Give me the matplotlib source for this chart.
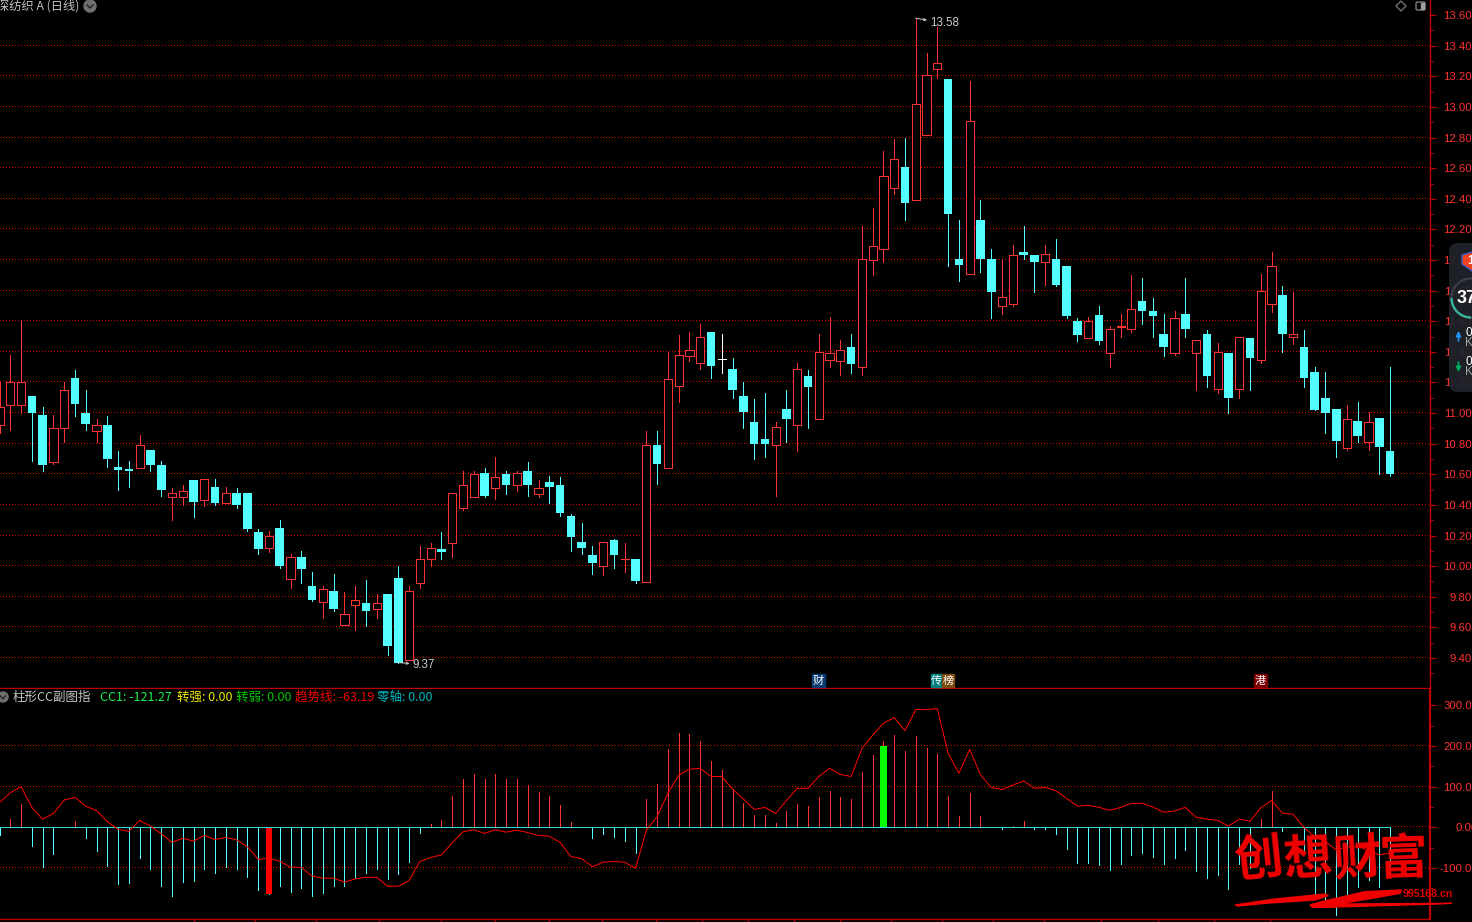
import matplotlib
matplotlib.use('Agg')
import matplotlib.pyplot as plt
import numpy as np
from matplotlib.patches import Circle, FancyBboxPatch, Polygon, Rectangle, Arc

plt.rcParams['font.family'] = ['Noto Sans CJK SC', 'DejaVu Sans']

# K线: 上影, 实体上沿, 实体下沿, 下影
highs = [11.20, 11.38, 11.61, 11.11, 11.04, 10.99, 11.20, 11.28, 11.15, 10.96,
         10.98, 10.75, 10.69, 10.86, 10.76, 10.69, 10.51, 10.53, 10.56, 10.57,
         10.57, 10.52, 10.51, 10.48, 10.24, 10.23, 10.30, 10.08, 10.10, 9.96,
         9.87, 9.95, 9.83, 9.87, 9.91, 9.82, 9.82, 10.00, 9.87, 10.13,
         10.15, 10.22, 10.48, 10.62, 10.62, 10.64, 10.71, 10.62, 10.62, 10.68,
         10.56, 10.59, 10.58, 10.34, 10.28, 10.13, 10.16, 10.18, 10.15, 10.05,
         10.88, 10.88, 11.40, 11.51, 11.53, 11.58, 11.53, 11.52, 11.36, 11.20,
         11.09, 11.13, 10.94, 11.15, 11.33, 11.28, 11.52, 11.63, 11.48, 11.52,
         12.22, 12.34, 12.71, 12.79, 12.80, 13.58, 13.35, 13.52, 13.18, 12.26,
         13.17, 12.39, 12.07, 12.01, 12.10, 12.22, 12.03, 12.10, 12.14, 11.96,
         11.62, 11.63, 11.70, 11.57, 11.65, 11.90, 11.88, 11.75, 11.65, 11.67,
         11.88, 11.48, 11.54, 11.46, 11.39, 11.50, 11.49, 11.91, 12.05, 11.83,
         11.79, 11.54, 11.30, 11.27, 11.03, 11.05, 11.07, 11.01, 10.97, 11.30]
tops = [11.04, 11.20, 11.20, 11.11, 10.99, 10.90, 11.15, 11.23, 11.00, 10.92,
        10.92, 10.65, 10.625, 10.79, 10.76, 10.66, 10.48, 10.49, 10.56, 10.57,
        10.52, 10.48, 10.48, 10.48, 10.22, 10.20, 10.25, 10.06, 10.06, 9.87,
        9.85, 9.84, 9.69, 9.78, 9.76, 9.76, 9.82, 9.92, 9.84, 10.05,
        10.12, 10.11, 10.48, 10.53, 10.60, 10.61, 10.58, 10.60, 10.61, 10.62,
        10.51, 10.55, 10.53, 10.33, 10.16, 10.07, 10.16, 10.17, 10.045, 10.05,
        10.79, 10.79, 11.22, 11.38, 11.41, 11.50, 11.53, 11.355, 11.29, 11.11,
        10.94, 10.83, 10.91, 11.03, 11.29, 11.24, 11.40, 11.39, 11.41, 11.43,
        12.01, 12.09, 12.55, 12.66, 12.61, 13.02, 13.21, 13.29, 13.18, 12.01,
        12.91, 12.26, 12.01, 11.76, 12.03, 12.05, 12.03, 12.04, 12.01, 11.96,
        11.60, 11.60, 11.64, 11.55, 11.57, 11.68, 11.73, 11.67, 11.52, 11.62,
        11.65, 11.48, 11.52, 11.40, 11.39, 11.50, 11.49, 11.80, 11.96, 11.77,
        11.52, 11.43, 11.27, 11.10, 11.03, 10.96, 10.95, 10.94, 10.97, 10.75]
bots = [10.92, 11.05, 11.05, 11.00, 10.66, 10.68, 10.90, 11.06, 10.93, 10.88,
        10.70, 10.63, 10.625, 10.64, 10.66, 10.50, 10.455, 10.455, 10.42, 10.43,
        10.41, 10.415, 10.40, 10.24, 10.11, 10.12, 10.00, 9.915, 9.98, 9.78,
        9.765, 9.72, 9.615, 9.745, 9.71, 9.72, 9.48, 9.37, 9.385, 9.89,
        10.045, 10.09, 10.15, 10.38, 10.455, 10.46, 10.51, 10.53, 10.53, 10.53,
        10.47, 10.52, 10.35, 10.19, 10.12, 10.02, 10.00, 10.07, 10.045, 9.90,
        9.895, 10.67, 10.64, 11.18, 11.37, 11.33, 11.31, 11.355, 11.15, 11.01,
        10.80, 10.80, 10.79, 10.96, 10.92, 11.17, 10.96, 11.35, 11.34, 11.32,
        11.30, 12.00, 12.07, 12.47, 12.37, 12.39, 12.82, 13.25, 12.30, 11.97,
        11.91, 12.01, 11.79, 11.70, 11.71, 12.03, 11.99, 11.99, 11.84, 11.635,
        11.51, 11.49, 11.47, 11.395, 11.56, 11.55, 11.67, 11.635, 11.43, 11.395,
        11.55, 11.39, 11.24, 11.16, 11.10, 11.16, 11.36, 11.35, 11.71, 11.52,
        11.50, 11.23, 11.02, 11.00, 10.82, 10.775, 10.85, 10.81, 10.78, 10.60]
lows = [10.87, 10.89, 11.00, 10.69, 10.62, 10.67, 10.81, 10.98, 10.89, 10.81,
        10.65, 10.50, 10.52, 10.64, 10.62, 10.46, 10.30, 10.40, 10.32, 10.39,
        10.40, 10.415, 10.38, 10.23, 10.08, 10.09, 9.99, 9.86, 9.89, 9.77,
        9.66, 9.71, 9.615, 9.58, 9.61, 9.66, 9.42, 9.37, 9.385, 9.855,
        10.00, 10.05, 10.06, 10.37, 10.455, 10.45, 10.44, 10.47, 10.49, 10.46,
        10.45, 10.41, 10.33, 10.10, 10.08, 9.95, 9.94, 9.99, 9.96, 9.89,
        9.895, 10.54, 10.64, 11.07, 11.34, 11.29, 11.23, 11.26, 11.10, 10.90,
        10.70, 10.71, 10.46, 10.81, 10.75, 10.90, 10.96, 11.30, 11.25, 11.26,
        11.25, 11.90, 11.99, 12.43, 12.26, 12.39, 12.82, 13.19, 11.96, 11.86,
        11.91, 11.92, 11.62, 11.65, 11.70, 12.01, 11.79, 11.84, 11.83, 11.62,
        11.47, 11.49, 11.45, 11.30, 11.50, 11.53, 11.58, 11.50, 11.37, 11.38,
        11.50, 11.15, 11.17, 11.13, 11.00, 11.10, 11.15, 11.33, 11.66, 11.40,
        11.45, 11.17, 11.02, 10.87, 10.71, 10.76, 10.81, 10.76, 10.60, 10.59]
kinds = ('rrrccrrccr' 'cccrccrrcr' 'crcccrcrcc' 'rcrrcrccrr' 'rcrrrcrcrc'
         'rcccccrcrc' 'rcrrrrcwcc' 'ccrcrcrrrc' 'rrrrcrrrcc' 'rccrrccrcc'
         'crcrrrcccr' 'crcrcrcrrc' 'rccccrcrcc')

# 副图: 柱子 CC1 与 趋势线
cc1 = [-19, 20, 57, -46, -98, -66, 0, 16, -26, -58,
       -95, -139, -137, -75, -102, -144, -169, -134, -132, -102,
       -112, -98, -102, -122, -154, -164, -144, -159, -149, -169,
       -161, -144, -144, -125, -112, -102, -127, -115, -85, -14,
       8, 18, 77, 119, 131, 119, 131, 119, 119, 104,
       87, 77, 55, 13, 0, -26, -16, -24, -34, -63,
       70, 107, 193, 232, 230, 212, 163, 141, 94, 60,
       30, 30, 11, 40, 57, 52, 75, 89, 75, 70,
       136, 178, 212, 227, 188, 225, 195, 180, 77, 28,
       84, 28, 0, -4, 3, 16, -4, -4, -16, -53,
       -88, -88, -93, -105, -90, -68, -63, -73, -90, -75,
       -56, -107, -125, -117, -152, -90, -100, 20, 89, -9,
       0, -55, -166, -179, -216, -165, -147, -130, -147, -121.27]
trend = [61, 85, 100, 49, 20, 34, 67, 74, 52, 41,
         14, -5, -10, 17, 3, -16, -37, -27, -34, -20,
         -30, -25, -31, -48, -79, -76, -84, -98, -99, -120,
         -125, -125, -135, -127, -123, -123, -145, -145, -131, -84,
         -74, -68, -38, -11, -6, -15, -6, -12, -7, -13,
         -20, -22, -37, -72, -77, -97, -86, -84, -86, -101,
         -7, 26, 84, 128, 143, 145, 125, 125, 94, 70,
         44, 49, 34, 66, 96, 96, 125, 145, 130, 125,
         194, 227, 256, 270, 238, 290, 290, 292, 182, 133,
         192, 129, 98, 93, 104, 114, 96, 98, 90, 71,
         52, 54, 49, 42, 49, 59, 59, 50, 37, 40,
         49, 25, 20, 17, 3, 20, 15, 48, 66, 35,
         32, 0, -23, -35, -56, -48, -48, -56, -68, -63.19]
strong_idx, strong_val = 25, -164
weak_idx, weak_val = 82, 200

month_ticks = [18, 23.7, 29.4, 35.2, 41, 46, 51, 55.9, 60.9, 65.2, 69.4, 73.7,
               78, 82.7, 87.4, 92.2, 96.9, 102.2, 107.5, 112.7, 117.9]
price_ticks = [9.4 + 0.2 * k for k in range(22)]
cc_ticks = [-100, 0, 100, 200, 300]
hi_idx, hi_label = 85, '13.58'
lo_idx, lo_label = 37, '9.37'

RED = '#ff3232'
CYAN = '#54ffff'
AXIS = '#c00000'
GRID = '#d00000'
W, H = 1472, 922
PX = 0.72  # 1 pixel in points at dpi 100

fig = plt.figure(figsize=(W / 100, H / 100), dpi=100, facecolor='black')
ax1 = fig.add_axes([0, (H - 688) / H, 1430 / W, 688 / H], facecolor='black')
ax2 = fig.add_axes([0, (H - 919) / H, 1430 / W, 230 / H], facecolor='black')
ov = fig.add_axes([0, 0, 1, 1], facecolor='none')
ov.set_xlim(0, W)
ov.set_ylim(H, 0)
ov.axis('off')

x = list(range(len(highs)))
colors = {'r': RED, 'c': CYAN, 'w': '#ffffff'}
# 虚线网格: one pixel on, two off
dot_x = np.arange(0.05, 132.7, 3 / 10.78)

for p in price_ticks[:-1]:
    ax1.plot(dot_x, [p] * len(dot_x), ',', color=GRID, zorder=1)
for i in x:
    col = colors[kinds[i]]
    ax1.plot([i, i], [lows[i], highs[i]], color=col, lw=PX, aa=False, zorder=2,
             solid_capstyle='butt')
    if kinds[i] == 'r':
        ax1.bar(i, tops[i] - bots[i], bottom=bots[i], width=0.76, facecolor='black',
                edgecolor=col, linewidth=PX, antialiased=False, zorder=3)
    elif kinds[i] == 'c':
        ax1.bar(i, max(tops[i] - bots[i], 0.01), bottom=bots[i], width=0.8, facecolor=col,
                linewidth=0, antialiased=False, zorder=3)
    else:
        ax1.plot([i - 0.36, i + 0.36], [tops[i], tops[i]], color=col, lw=PX, aa=False, zorder=3)

ax1.set_xlim(0.046, 132.7)
ax1.set_ylim(9.204, 13.699)

ax1.annotate(hi_label, xy=(hi_idx, highs[hi_idx]), xytext=(14, -5), textcoords='offset pixels',
             color='#c8c8c8', fontsize=8.4, family='Liberation Sans', va='center', zorder=5,
             arrowprops=dict(arrowstyle='<-', color='#c8c8c8', lw=PX, shrinkA=0, shrinkB=0,
                             mutation_scale=4))
ax1.annotate(lo_label, xy=(lo_idx, lows[lo_idx]), xytext=(14, -2), textcoords='offset pixels',
             color='#c8c8c8', fontsize=8.4, family='Liberation Sans', va='center', zorder=5,
             arrowprops=dict(arrowstyle='<-', color='#c8c8c8', lw=PX, shrinkA=0, shrinkB=0,
                             mutation_scale=4))

# 副图
for v in cc_ticks[:-1]:
    if v != 0:
        ax2.plot(dot_x, [v] * len(dot_x), ',', color=GRID, zorder=1)
tail_x = dot_x[dot_x > 129]
ax2.plot(tail_x, [0] * len(tail_x), ',', color=GRID, zorder=1)
for i in x:
    if cc1[i] == 0:
        continue
    ax2.plot([i, i], [0, cc1[i]], color=RED if cc1[i] > 0 else CYAN, lw=PX, aa=False, zorder=2,
             solid_capstyle='butt')
ax2.bar(strong_idx, strong_val, width=0.62, color='#ff0000', antialiased=False, zorder=3)
ax2.bar(weak_idx, weak_val, width=0.62, color='#00ff00', antialiased=False, zorder=3)
ax2.plot([0, 129], [0, 0], color='#30d8d8', lw=PX * 0.9, aa=False, zorder=4)
ax2.plot(x, trend, color='#ff0000', lw=PX, zorder=5)
ax2.set_xlim(0.046, 132.7)
ax2.set_ylim(-225.7, 340.4)

# 坐标轴
ax1.set_yticks(price_ticks)
ax1.set_yticklabels(['%.2f' % p for p in price_ticks], family='Liberation Sans')
ax1.set_yticks([9.3 + 0.2 * k for k in range(22)], minor=True)
ax1.set_xticks([])
ax2.set_yticks(cc_ticks)
ax2.set_yticklabels(['%.2f' % v for v in cc_ticks], family='Liberation Sans')
ax2.set_yticks([-150, -50, 50, 150, 250], minor=True)
ax2.set_xticks(month_ticks)
ax2.set_xticklabels([])
ax2.tick_params(axis='x', length=2.2, width=PX, color=AXIS, direction='out')

for ax, label_pad in ((ax1, 25.6), (ax2, 30.5)):
    for s in ('left', 'top'):
        ax.spines[s].set_visible(False)
    ax.spines['right'].set_color(AXIS)
    ax.spines['bottom'].set_color(AXIS)
    ax.spines['right'].set_linewidth(PX * 1.4)
    ax.spines['bottom'].set_linewidth(PX * 1.4)
    ax.yaxis.tick_right()
    ax.tick_params(axis='y', which='major', length=4.2, width=PX * 1.2, color=AXIS, labelcolor=RED,
                   labelsize=8.2, pad=label_pad)
    ax.tick_params(axis='y', which='minor', length=2.2, width=PX, color=AXIS)
    for lab in ax.get_yticklabels():
        lab.set_horizontalalignment('right')
ax2.spines['right'].set_linewidth(PX * 2.2)

# 标题行
ov.text(-3, 6, '深纺织 A (日线)', color='#c4c4c4', fontsize=8.8, va='center')
ov.add_patch(Circle((90, 6), 6, color='#707070'))
ov.plot([87, 90, 93], [5, 8, 5], color='#202020', lw=1)
ov.add_patch(Circle((3, 697), 5, color='#707070'))
ov.plot([0.5, 3, 5.5], [696, 699, 696], color='#202020', lw=1)

legend_x = [13, 99.5, 177, 236, 295, 377]
legend_text = ['柱形CC副图指', 'CC1: -121.27', '转强: 0.00', '转弱: 0.00', '趋势线: -63.19', '零轴: 0.00']
legend_color = ['#c4c4c4', '#18f050', '#e8e800', '#00c800', '#f00000', '#00b8c0']
for lx, lt, lc in zip(legend_x, legend_text, legend_color):
    ov.text(lx, 697, lt, color=lc, fontsize=9, va='center')

# 事件标记
for bx, bw, tag, bc in [(812, 13, '财', '#0a3a70'), (931, 11, '传', '#008080'),
                        (942, 12, '榜', '#7a4a10'), (1254, 13, '港', '#7a0000')]:
    ov.add_patch(Rectangle((bx, 674), bw, 13, color=bc, zorder=6))
    ov.text(bx + bw / 2, 680.5, tag, color='white', fontsize=8, ha='center', va='center', zorder=7)

# 右上角按钮
ov.add_patch(Polygon([(1401, 1), (1406, 6), (1401, 11), (1396, 6)], closed=True, fill=False,
                     edgecolor='#707070', lw=1))
ov.add_patch(FancyBboxPatch((1416, 2), 9, 8, boxstyle='round,pad=0,rounding_size=1.5', fill=False,
                            edgecolor='#808080', lw=1))
ov.add_patch(Rectangle((1421, 3), 3, 6, color='#a0a0a0'))

# 悬浮小窗
ov.add_patch(FancyBboxPatch((1449, 243), 60, 149, boxstyle='round,pad=0,rounding_size=9',
                            facecolor='#20232b', edgecolor='none', alpha=0.93, zorder=8))
ov.add_patch(Circle((1471, 298), 19.5, fill=False, edgecolor='#3a3d46', lw=1.6, zorder=9))
ov.add_patch(Arc((1471, 298), 39, 39, theta1=90, theta2=180, edgecolor='#35b8a0', lw=1.6, zorder=10))
ov.text(1457, 298, '37', color='white', fontsize=13, fontweight='bold', family='Liberation Sans',
        va='center', zorder=11)
ov.add_patch(Polygon([(1462, 255), (1472, 252), (1480, 255), (1480, 264), (1472, 271), (1462, 264)],
                     closed=True, facecolor='#f0421e', edgecolor='#3a5ac8', lw=1, zorder=9))
ov.text(1467, 261, '1', color='white', fontsize=9, fontweight='bold', family='Liberation Sans',
        va='center', zorder=11)
ov.annotate('', xy=(1458.5, 331), xytext=(1458.5, 341), zorder=10,
            arrowprops=dict(arrowstyle='-|>', color='#1e96ff', lw=1.2, shrinkA=0, shrinkB=0, mutation_scale=7))
ov.annotate('', xy=(1458.5, 372), xytext=(1458.5, 362), zorder=10,
            arrowprops=dict(arrowstyle='-|>', color='#00b060', lw=1.2, shrinkA=0, shrinkB=0, mutation_scale=7))
for ty, letter, tc in [(333, '0', 'white'), (343, 'K', '#a0a0a0'), (362, '0', 'white'), (372, 'K', '#a0a0a0')]:
    ov.text(1465, ty, letter, color=tc, fontsize=8.5, family='Liberation Sans', va='center', zorder=11)

# 水印
for cx, cy, ch, rot in [(1258, 860, '创', 6), (1308, 860, '想', 4), (1358, 860, '财', 4), (1403, 860, '富', 2)]:
    ov.text(cx, cy, ch, color='#f00000', fontsize=35, fontweight='bold', ha='center', va='center',
            rotation=rot, zorder=12)
stroke1 = [(30, 240), (150, 222), (300, 207), (310, 212), (270, 225), (120, 235), (40, 243)]
stroke2 = [(255, 240), (290, 230), (420, 200), (530, 195), (525, 205), (430, 222), (340, 237),
           (680, 235), (600, 238), (300, 247), (262, 247)]
for st in (stroke1, stroke2):
    ov.add_patch(Polygon([(1225 + a / 3, 825 + b / 3) for a, b in st], closed=True,
                         color='#f00000', zorder=12))
ov.text(1403, 894, '995168.cn', color='#e00000', fontsize=7.6, fontweight='bold',
        family='Liberation Sans', va='center', zorder=12)

fig.savefig('out.png', dpi=100, facecolor='black')
